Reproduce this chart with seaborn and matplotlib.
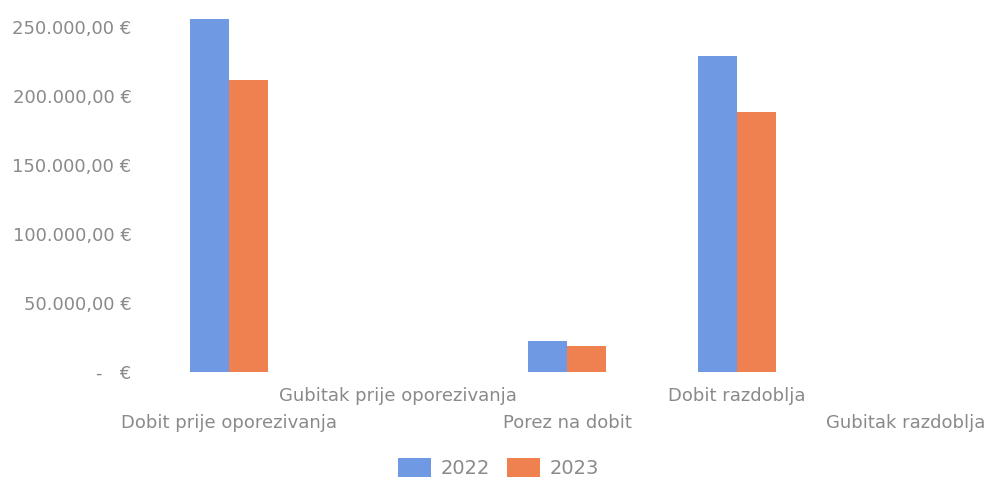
import matplotlib
matplotlib.use('Agg')
import matplotlib.pyplot as plt
from matplotlib.ticker import FuncFormatter
import numpy as np
import pandas as pd
import seaborn as sns

categories = ['Dobit prije oporezivanja', 'Gubitak prije oporezivanja',
              'Porez na dobit', 'Dobit razdoblja', 'Gubitak razdoblja']
values_2022 = [255800, np.nan, 22700, 229200, np.nan]
values_2023 = [211600, np.nan, 18800, 188600, np.nan]
years = ['2022', '2023']
yticks = [0, 50000, 100000, 150000, 200000, 250000]

df = pd.DataFrame({'kategorija': categories * 2,
                   'godina': [years[0]] * 5 + [years[1]] * 5,
                   'iznos': values_2022 + values_2023})

sns.set_style('white')
plt.rcParams['font.family'] = ['DejaVu Sans']
grey = '#8a8a8a'

fig = plt.figure(figsize=(9.87, 4.82), dpi=100)
ax = fig.add_axes([0.1459, 0.2282, 0.858, 0.7718])

sns.barplot(data=df, x='kategorija', y='iznos', hue='godina', order=categories,
            hue_order=years, palette=['#6f9ae3', '#ef8150'], width=0.46,
            gap=0, saturation=1, errorbar=None, linewidth=0, ax=ax, legend=True)

ax.set_xlim(-0.5, 4.5)
ax.set_ylim(0, 372 / 69 * 50000)
ax.set_yticks(yticks)


def euro(v, pos):
    if v == 0:
        return '-   €'
    return f'{v:,.2f}'.replace(',', ' ').replace('.', ',').replace(' ', '.') + ' €'


ax.yaxis.set_major_formatter(FuncFormatter(euro))
ax.tick_params(axis='y', length=0, pad=9, labelsize=13, labelcolor=grey)
ax.tick_params(axis='x', length=0, labelsize=13, labelcolor=grey)
for i, tick in enumerate(ax.xaxis.get_major_ticks()):
    tick.set_pad(11 if i % 2 else 30)

ax.set_xlabel('')
ax.set_ylabel('')
sns.despine(ax=ax, left=True, bottom=True)

handles, labels = ax.get_legend_handles_labels()
ax.get_legend().remove()
fig.legend(handles, labels, loc='lower center', bbox_to_anchor=(0.505, -0.028),
           ncol=2, frameon=False, fontsize=14, labelcolor=grey,
           handlelength=1.7, handleheight=1.1, handletextpad=0.5,
           columnspacing=0.9)

fig.savefig('out.png', dpi=100)
